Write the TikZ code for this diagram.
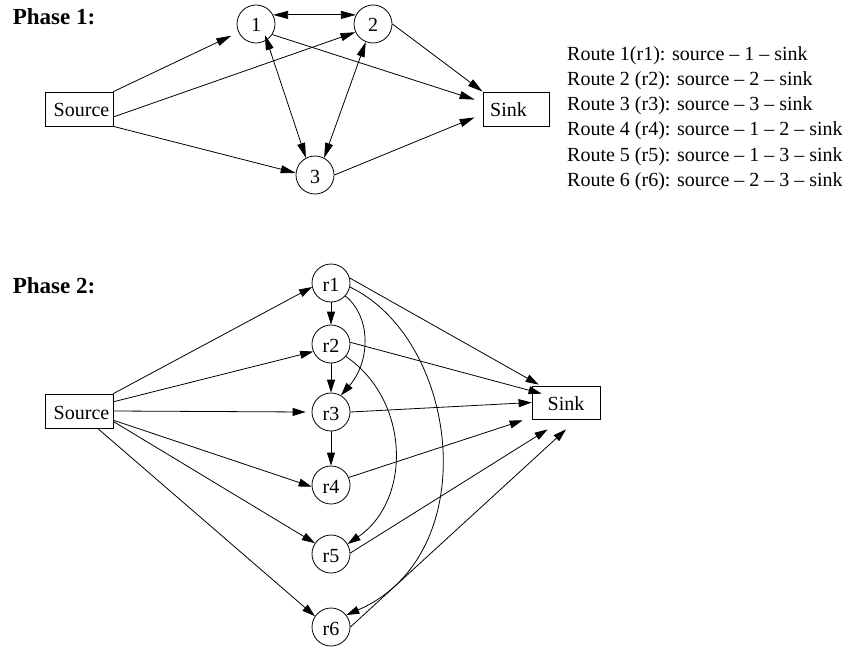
\documentclass[tikz,border=0pt]{standalone}
\usepackage{fontspec}
\setmainfont{Liberation Serif}
\usetikzlibrary{arrows.meta,calc}
\begin{document}
\begin{tikzpicture}[x=1pt,y=-1pt,
  every node/.style={font=\fontsize{20}{24}\selectfont, inner sep=0pt},
  rnode/.style={draw, circle, minimum size=38pt, line width=0.8pt, text height=16pt, text depth=0pt},
  boxnode/.style={draw, rectangle, minimum width=68pt, minimum height=34pt, line width=0.8pt, text height=16pt, text depth=0pt},
  edgeA/.style={line width=0.8pt, -{Triangle[length=15pt,width=8pt]}},
  edgeB/.style={line width=0.8pt, -{Triangle[length=13pt,width=8pt]}},
  bothA/.style={line width=0.8pt, {Triangle[length=15pt,width=8pt]}-{Triangle[length=15pt,width=8pt]}},
  phase/.style={font=\fontsize{23}{27}\selectfont\bfseries, anchor=base west},
  route/.style={font=\fontsize{20}{25}\selectfont, anchor=base west},
]
\fill[white] (0,0) rectangle (850,647);
\useasboundingbox (0,0) rectangle (850,647);

% ---------- Phase 1 ----------
\node[phase] (ph1) at (12.7,25) {Phase 1:};
\node[boxnode] (src1) at (79,109) {\hspace*{5pt}Source};
\node[boxnode, minimum width=66pt] (snk1) at (516,109) {Sink\hspace*{15pt}};
\node[rnode] (n1) at (256,24) {1};
\node[rnode] (n2) at (373,24) {2};
\node[rnode] (n3) at (315,175) {3};

\draw[edgeA, shorten >=8pt] (src1.north east) -- (n1);
\draw[edgeA] (src1.-13) -- (n2.205);
\draw[edgeA] (src1.south east) -- (n3.174);
\draw[bothA] (n1.28) -- (n2.152);
\draw[bothA] ($(n1)+(9,11)$) -- (n3.118);
\draw[bothA] (n2.-112) -- (n3.62);
\draw[edgeA] (n1.-33) -- ($(snk1.north west)+(-8,8)$);
\draw[edgeA] (n2.0) -- (snk1.north west);
\draw[edgeA] (n3.0) -- ($(snk1.south west)+(-8,-9)$);

\node[route] (rt1) at (567,61) {Route 1(r1): source – 1 – sink};
\node[route] (rt2) at (567,86) {Route 2 (r2): source – 2 – sink};
\node[route] (rt3) at (567,111) {Route 3 (r3): source – 3 – sink};
\node[route] (rt4) at (567,136) {Route 4 (r4): source – 1 – 2 – sink};
\node[route] (rt5) at (567,161) {Route 5 (r5): source – 1 – 3 – sink};
\node[route] (rt6) at (567,186) {Route 6 (r6): source – 2 – 3 – sink};

% ---------- Phase 2 ----------
\node[phase] (ph2) at (12.7,293) {Phase 2:};
\node[boxnode] (src2) at (79,411) {\hspace*{5pt}Source};
\node[boxnode, minimum height=33pt] (snk2) at (566,402.5) {Sink};
\node[rnode] (r1) at (331,283) {r1};
\node[rnode] (r2) at (331,344) {r2};
\node[rnode] (r3) at (331,412) {r3};
\node[rnode] (r4) at (331,485) {r4};
\node[rnode] (r5) at (331,554) {r5};
\node[rnode] (r6) at (331,627) {r6};

\draw[edgeB] (src2.north east) -- (r1.192);
\draw[edgeB] (src2.15) -- (r2.203);
\draw[edgeB] (src2.east) -- ($(r3.west)+(-6,0)$);
\draw[edgeB] (src2.-15) -- (r4.185);
\draw[edgeB] (src2.-17) -- (r5.146);
\draw[edgeB] (src2.-43) -- (r6.146);

\draw[edgeB] (r1.south) -- (r2.north);
\draw[edgeB] (r2.south) -- (r3.north);
\draw[edgeB] (r3.south) -- (r4.north);

\draw[edgeB] (r1.-42) .. controls (372,318) and (370,362) .. (r3.59);
\draw[edgeB] (r2.-40) .. controls (410,400) and (412,500) .. (r5.31);
\draw[edgeB] (r1.-12) .. controls (460,340) and (485,555) .. (r6.38);

\draw[edgeB] (r1.15) -- ($(snk2.north west)+(7,-1)$);
\draw[edgeB] (r2.5) -- ($(snk2.north west)+(10,8)$);
\draw[edgeB] (r3.0) -- (snk2.west);
\draw[edgeB] (r4.23) -- ($(snk2.south west)+(-9,1)$);
\draw[edgeB] (r5.3) -- ($(snk2.south west)+(16,10)$);
\draw[edgeB] (r6.0) -- ($(snk2.south)+(0,10)$);
\end{tikzpicture}
\end{document}
